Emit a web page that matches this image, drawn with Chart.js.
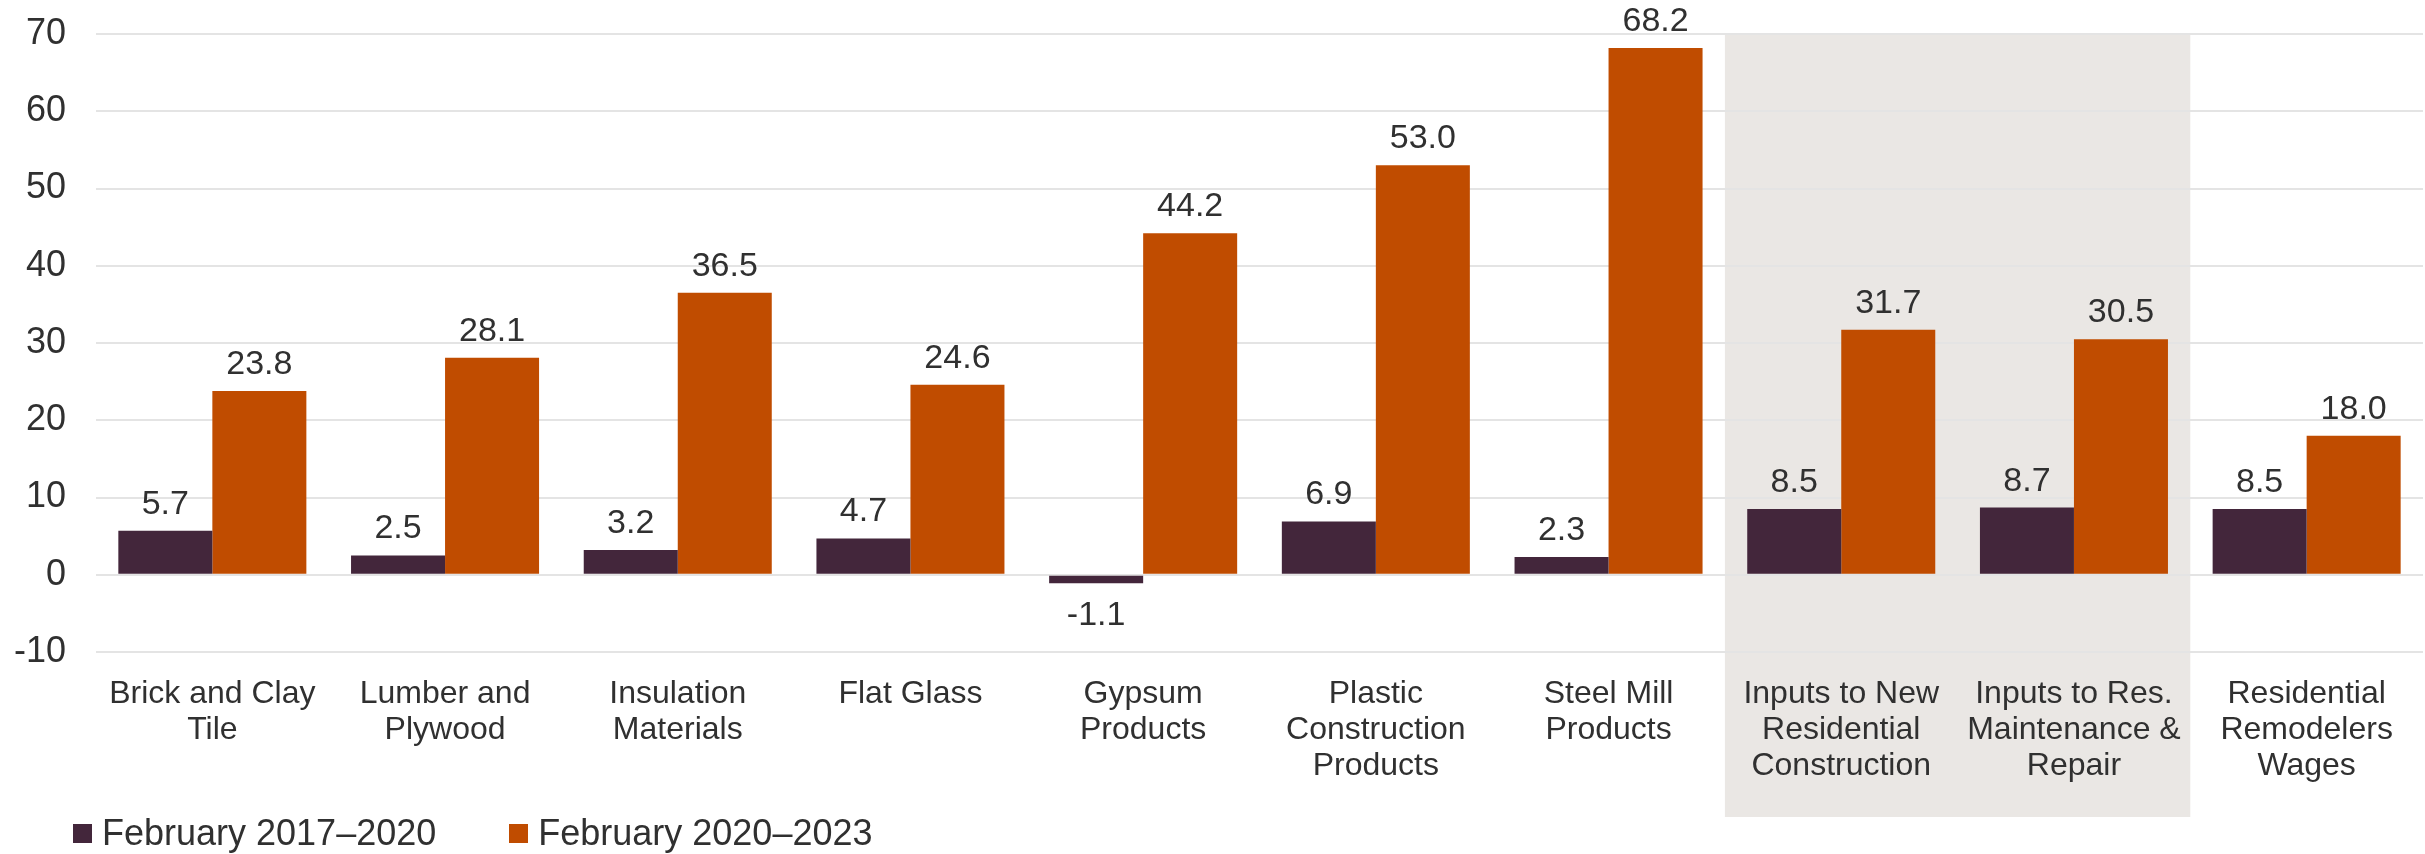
<!DOCTYPE html>
<html>
<head>
<meta charset="utf-8">
<script src="https://cdn.jsdelivr.net/npm/chart.js@4.4.0/dist/chart.umd.min.js"></script>
<style>
  html, body { margin: 0; padding: 0; background: #fff; }
  #wrap { position: relative; width: 2425px; height: 854px; }
  #legend {
    position: absolute; left: 73px; top: 812px;
    font-family: "Liberation Sans", Arial, sans-serif; font-size: 36px; color: #303030;
    display: flex; align-items: center; line-height: 42px;
  }
  #legend .item { display: flex; align-items: center; margin-right: 73px; }
  #legend .box { width: 19px; height: 19px; margin-right: 10px; }
</style>
</head>
<body>
<div id="wrap">
  <canvas id="myChart"></canvas>
  <div id="legend"></div>
</div>
<script>
const categories = [
  ["Brick and Clay", "Tile"],
  ["Lumber and", "Plywood"],
  ["Insulation", "Materials"],
  ["Flat Glass"],
  ["Gypsum", "Products"],
  ["Plastic", "Construction", "Products"],
  ["Steel Mill", "Products"],
  ["Inputs to New", "Residential", "Construction"],
  ["Inputs to Res.", "Maintenance &", "Repair"],
  ["Residential", "Remodelers", "Wages"]
];
const seriesNames = ["February 2017\u20132020", "February 2020\u20132023"];
const values2017 = [5.7, 2.5, 3.2, 4.7, -1.1, 6.9, 2.3, 8.5, 8.7, 8.5];
const values2020 = [23.8, 28.1, 36.5, 24.6, 44.2, 53.0, 68.2, 31.7, 30.5, 18.0];
const colors = ["#43263b", "#c04c00"];
const shadedCategories = [7, 8];

const fontFamily = '"Liberation Sans", Arial, sans-serif';
const textColor = "#303030";

Chart.defaults.font.family = fontFamily;
Chart.defaults.color = textColor;

// grey band behind the two "Inputs to" groups
const bandPlugin = {
  id: "band",
  beforeDraw(chart) {
    const x = chart.scales.x;
    const ctx = chart.ctx;
    const half = (x.getPixelForValue(1) - x.getPixelForValue(0)) / 2;
    const left = x.getPixelForValue(shadedCategories[0]) - half;
    const right = x.getPixelForValue(shadedCategories[shadedCategories.length - 1]) + half;
    ctx.save();
    ctx.fillStyle = "#eae7e4";
    ctx.fillRect(left, chart.chartArea.top, right - left, 817 - chart.chartArea.top);
    ctx.restore();
  }
};

// value labels above / below each bar
const valueLabels = {
  id: "valueLabels",
  afterDatasetsDraw(chart) {
    const ctx = chart.ctx;
    ctx.save();
    ctx.font = `34px ${fontFamily}`;
    ctx.fillStyle = textColor;
    ctx.textAlign = "center";
    ctx.textBaseline = "alphabetic";
    chart.data.datasets.forEach(function (ds, i) {
      chart.getDatasetMeta(i).data.forEach(function (bar, j) {
        const v = ds.data[j];
        const y = v >= 0 ? bar.y - 17 : bar.y + 42;
        ctx.fillText(v.toFixed(1), bar.x, y);
      });
    });
    ctx.restore();
  }
};

const data = {
  labels: categories,
  datasets: [
    { label: seriesNames[0], data: values2017, backgroundColor: colors[0] },
    { label: seriesNames[1], data: values2020, backgroundColor: colors[1] }
  ]
};

const config = {
  type: "bar",
  data,
  plugins: [bandPlugin, valueLabels],
  options: {
    responsive: true,
    maintainAspectRatio: false,
    animation: false,
    devicePixelRatio: 1,
    layout: { padding: { top: 34, right: 2, left: 0, bottom: 0 } },
    datasets: {
      bar: { categoryPercentage: 0.808, barPercentage: 1.0 }
    },
    plugins: {
      legend: { display: false },
      tooltip: { enabled: false }
    },
    scales: {
      x: {
        grid: { display: false, drawTicks: false },
        border: { display: false },
        ticks: {
          font: { size: 32, lineHeight: 1.13 },
          color: textColor,
          padding: 24,
          maxRotation: 0,
          autoSkip: false
        },
        afterFit(scale) {
          scale.height = 202;
          scale.paddingLeft = 0;
          scale.paddingRight = 0;
        }
      },
      y: {
        min: -10,
        max: 70,
        grid: { color: "#e4e4e4", lineWidth: 2, drawTicks: false },
        border: { display: false },
        ticks: {
          stepSize: 10,
          font: { size: 36 },
          color: textColor,
          padding: 30
        },
        afterFit(scale) {
          scale.width = 96;
          scale.paddingTop = 0;
          scale.paddingBottom = 0;
        }
      }
    }
  }
};

new Chart(document.getElementById("myChart").getContext("2d"), config);

const legendEl = document.getElementById("legend");
seriesNames.forEach(function (name, i) {
  const item = document.createElement("div");
  item.className = "item";
  item.innerHTML = `<span class="box" style="background:${colors[i]}"></span><span>${name}</span>`;
  legendEl.appendChild(item);
});
</script>
</body>
</html>
